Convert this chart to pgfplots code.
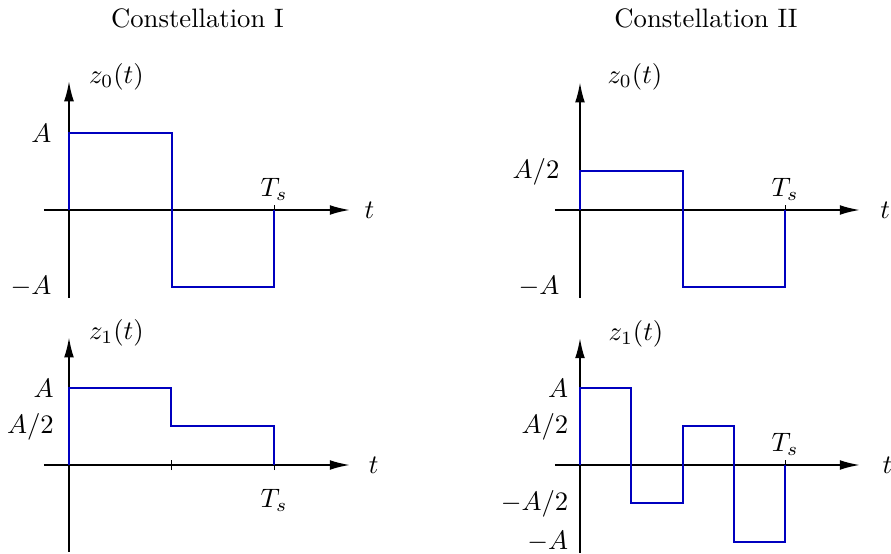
\documentclass[border=0pt]{standalone}
\usepackage{pgfplots}
\pgfplotsset{compat=1.18}
\usetikzlibrary{arrows.meta}
\definecolor{sig}{rgb}{0,0,0.75}
\pgfplotsset{
  sigaxis/.style={
    axis lines*=middle,
    x=76.875pt, y=28.875pt,
    anchor=origin,
    clip=false,
    axis line style={line width=0.75pt, black, -{Latex[length=7.6pt,width=3.7pt]}},
    xtick={0.5,1},
    tick align=center,
    major tick length=3.8pt,
    xtick style={line width=0.35pt, black},
    ytick style={draw=none},
    yticklabel style={anchor=east},
  },
  sig/.style={color=sig, line width=0.75pt, mark=none, line join=miter},
}
\begin{document}
\begin{tikzpicture}[x=0.375pt, y=0.375pt]
\useasboundingbox (0,0) rectangle (891,554);
\coordinate (o1) at (69,344);
\coordinate (o2) at (580,344);
\coordinate (o3) at (69,89);
\coordinate (o4) at (580,89);
\node at (197.5,535.25) {Constellation I};
\node at (706,535.25) {Constellation II};

% Panel 1
\begin{axis}[sigaxis, at={(o1)},
  xmin=-0.122, xmax=1.371, ymin=-1.143, ymax=1.675,
  ytick={-1,1}, yticklabels={$-A$,$A$},
  yticklabel style={xshift=-1.2pt},
  xticklabels={,$T_s$},
  xticklabel style={anchor=south, yshift=2pt}]
\addplot[sig] coordinates {(0,0) (0,1) (0.5,1) (0.5,-1) (1,-1) (1,0)};
\node[anchor=west, inner sep=0pt] at (axis cs:0.095,1.73) {$z_0(t)$};
\node[anchor=west, inner sep=0pt] at (axis cs:1.44,-0.01) {$t$};
\end{axis}

% Panel 2
\begin{axis}[sigaxis, at={(o2)},
  xmin=-0.122, xmax=1.366, ymin=-1.143, ymax=1.66,
  ytick={-1,0.5}, yticklabels={$-A$,$A/2$},
  yticklabel style={xshift=-2.3pt},
  xticklabels={,$T_s$},
  xticklabel style={anchor=south, yshift=2pt}]
\addplot[sig] coordinates {(0,0) (0,0.5) (0.5,0.5) (0.5,-1) (1,-1) (1,0)};
\node[anchor=west, inner sep=0pt] at (axis cs:0.132,1.73) {$z_0(t)$};
\node[anchor=west, inner sep=0pt] at (axis cs:1.463,-0.01) {$t$};
\end{axis}

% Panel 3
\begin{axis}[sigaxis, at={(o3)},
  xmin=-0.122, xmax=1.371, ymin=-1.13, ymax=1.66,
  ytick={0.5,1}, yticklabels={$A/2$,$A$},
  yticklabel style={xshift=-0.3pt},
  xticklabels={,$T_s$},
  xticklabel style={anchor=north, yshift=-3.8pt}]
\addplot[sig] coordinates {(0,0) (0,1) (0.5,1) (0.5,0.5) (1,0.5) (1,0)};
\node[anchor=west, inner sep=0pt] at (axis cs:0.095,1.71) {$z_1(t)$};
\node[anchor=west, inner sep=0pt] at (axis cs:1.46,-0.01) {$t$};
\end{axis}

% Panel 4
\begin{axis}[sigaxis, at={(o4)},
  xmin=-0.122, xmax=1.366, ymin=-1.143, ymax=1.65,
  ytick={-1,-0.5,0.5,1}, yticklabels={$-A$,$-A/2$,$A/2$,$A$},
  yticklabel style={xshift=1pt},
  xticklabels={,$T_s$},
  xticklabel style={anchor=south, yshift=2pt}]
\addplot[sig] coordinates {(0,0) (0,1) (0.25,1) (0.25,-0.5) (0.5,-0.5) (0.5,0.5) (0.75,0.5) (0.75,-1) (1,-1) (1,0)};
\node[anchor=west, inner sep=0pt] at (axis cs:0.137,1.70) {$z_1(t)$};
\node[anchor=west, inner sep=0pt] at (axis cs:1.473,-0.01) {$t$};
\end{axis}
\end{tikzpicture}
\end{document}
